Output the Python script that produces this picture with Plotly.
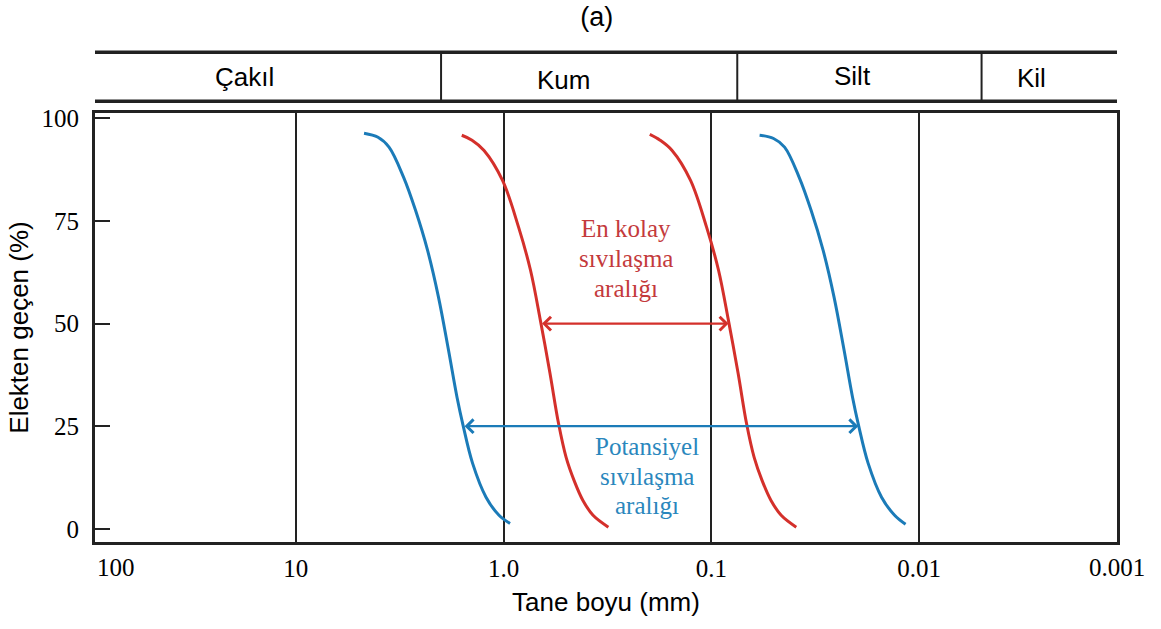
import numpy as np
import plotly.graph_objects as go

# Grain-size axis (mm), drawn right-to-left on a log scale
x_tick_vals = [10, 1, 0.1, 0.01]
x_tick_text = ["10", "1.0", "0.1", "0.01"]
x_end_labels = ["100", "0.001"]
y_tick_vals = [0, 25, 50, 75, 100]

# Soil classes and the sizes (mm) separating them
zones = ["Çakıl", "Kum", "Silt", "Kil"]
zone_bounds_mm = [2.0, 0.075, 0.005]
zone_label_mm = [17.6, 0.517, 0.0208, 0.00289]

# Gradation curves: grain size (mm) vs. percent passing
blue_coarse_mm = [4.697, 4.023, 3.561, 3.032, 2.654, 2.324, 2.057, 1.841, 1.675, 1.567, 1.411, 1.215, 1.052, 0.931]
blue_coarse_pct = [96.4, 95.4, 93.0, 85.7, 77.6, 67.9, 56.4, 43.5, 32.0, 25.2, 16.0, 7.7, 3.3, 1.3]

red_coarse_mm = [1.590, 1.419, 1.242, 1.012, 0.847, 0.742, 0.664, 0.598, 0.544, 0.500, 0.458, 0.415, 0.371, 0.313]
red_coarse_pct = [95.9, 94.7, 92.2, 84.9, 73.5, 63.0, 50.6, 37.9, 25.7, 17.4, 11.8, 6.9, 3.3, 0.4]

red_fine_mm = [0.1978, 0.1765, 0.1545, 0.1259, 0.1054, 0.0923, 0.0826, 0.0743, 0.0677, 0.0622, 0.0570, 0.0516, 0.0461, 0.0390]
red_fine_pct = [96.1, 94.7, 92.2, 84.9, 73.5, 63.0, 50.6, 37.9, 25.7, 17.4, 11.8, 6.9, 3.3, 0.4]

blue_fine_mm = [0.05856, 0.05016, 0.04440, 0.03780, 0.03309, 0.02897, 0.02564, 0.02295, 0.02089, 0.01955, 0.01759, 0.01515, 0.01311, 0.01161]
blue_fine_pct = [95.9, 95.1, 93.0, 85.7, 77.6, 67.9, 56.4, 43.5, 32.0, 25.2, 16.0, 7.7, 3.3, 1.1]

# Liquefaction ranges marked with double arrows
easy_range_mm = [0.664, 0.0826]
easy_range_pct = 50
potential_range_mm = [1.567, 0.0196]
potential_range_pct = 25

easy_text = ["En kolay", "sıvılaşma", "aralığı"]
easy_text_mm = 0.257
easy_text_pct = [73.2, 65.9, 58.6]
potential_text = ["Potansiyel", "sıvılaşma", "aralığı"]
potential_text_mm = 0.204
potential_text_pct = [20.1, 12.8, 5.7]

BLUE = "#1b7bb8"
RED = "#d4302b"
BLUE_TXT = "#2a87bd"
RED_TXT = "#c43a3c"
SERIF = "Liberation Serif, Times New Roman, serif"
SANS = "Liberation Sans, Arial, sans-serif"

fig = go.Figure()
for xs, ys, col in [
    (blue_coarse_mm, blue_coarse_pct, BLUE),
    (red_coarse_mm, red_coarse_pct, RED),
    (red_fine_mm, red_fine_pct, RED),
    (blue_fine_mm, blue_fine_pct, BLUE),
]:
    fig.add_trace(go.Scatter(
        x=xs, y=ys, mode="lines",
        line=dict(color=col, width=3, shape="spline", smoothing=1.0),
        showlegend=False, hoverinfo="skip",
    ))

annotations = []
# double-headed range arrows (annotation positions are log10 on a log axis)
for rng, pct, col in [(easy_range_mm, easy_range_pct, RED),
                      (potential_range_mm, potential_range_pct, BLUE)]:
    annotations.append(dict(
        x=np.log10(rng[1]), y=pct, ax=np.log10(rng[0]), ay=pct,
        xref="x", yref="y", axref="x", ayref="y", text="",
        showarrow=True, arrowhead=4, startarrowhead=4, arrowside="end+start",
        arrowsize=1.2, startarrowsize=1.2, arrowwidth=2.2, arrowcolor=col,
    ))

for lines, xm, ys, col in [(easy_text, easy_text_mm, easy_text_pct, RED_TXT),
                           (potential_text, potential_text_mm, potential_text_pct, BLUE_TXT)]:
    for t, yv in zip(lines, ys):
        annotations.append(dict(
            x=np.log10(xm), y=yv, xref="x", yref="y", text=t, showarrow=False,
            font=dict(family=SERIF, size=25, color=col), xanchor="center", yanchor="middle",
        ))

# header band with soil class names
header_top, header_bottom = 1.1415, 1.0273
zone_label_y = [1.0832, 1.0762, 1.0855, 1.0809]
for name, xm, yp in zip(zones, zone_label_mm, zone_label_y):
    annotations.append(dict(
        x=np.log10(xm), y=yp, xref="x", yref="paper", text=name, showarrow=False,
        font=dict(family=SANS, size=26, color="black"), xanchor="center", yanchor="middle",
    ))

# tick labels at the two ends of the size axis
annotations.append(dict(x=0, y=-0.06, xref="paper", yref="paper", text=x_end_labels[0],
                        showarrow=False, xanchor="left", yanchor="middle",
                        font=dict(family=SERIF, size=25, color="black")))
annotations.append(dict(x=1, y=-0.06, xref="paper", yref="paper", text=x_end_labels[1],
                        showarrow=False, xanchor="center", yanchor="middle",
                        font=dict(family=SERIF, size=25, color="black")))

shapes = [
    dict(type="line", xref="paper", yref="paper", x0=0, x1=1, y0=header_top, y1=header_top,
         line=dict(color="#222", width=3.5)),
    dict(type="line", xref="paper", yref="paper", x0=0, x1=1, y0=header_bottom, y1=header_bottom,
         line=dict(color="#222", width=3.5)),
]
for b in zone_bounds_mm:
    shapes.append(dict(type="line", xref="x", yref="paper", x0=b, x1=b,
                       y0=header_bottom, y1=header_top, line=dict(color="#222", width=2)))

fig.update_layout(
    width=1161, height=629,
    margin=dict(l=95, r=44, t=113, b=87),
    paper_bgcolor="white", plot_bgcolor="white",
    title=dict(text="(a)", x=0.514, xanchor="center", y=0.974, yanchor="middle",
               font=dict(family=SANS, size=27, color="black")),
    annotations=annotations, shapes=shapes,
    xaxis=dict(
        type="log", range=[1.967, -2.953],
        tickvals=x_tick_vals, ticktext=x_tick_text, ticks="",
        tickfont=dict(family=SERIF, size=25, color="black"),
        showgrid=True, gridcolor="#222", gridwidth=2,
        showline=True, linecolor="#222", linewidth=3, mirror=True,
        zeroline=False, ticklabelstandoff=2,
        title=dict(text="Tane boyu (mm)", font=dict(family=SANS, size=26, color="black"),
                   standoff=12),
    ),
    yaxis=dict(
        range=[-3.22, 101.32], tickvals=y_tick_vals,
        ticks="inside", ticklen=15, tickwidth=2, tickcolor="#222",
        tickfont=dict(family=SERIF, size=25, color="black"),
        showgrid=False, zeroline=False,
        showline=True, linecolor="#222", linewidth=3, mirror=True,
        ticklabelstandoff=8,
        title=dict(text="Elekten geçen (%)", font=dict(family=SANS, size=26, color="black"),
                   standoff=6),
    ),
)

fig.write_html("out.html")
